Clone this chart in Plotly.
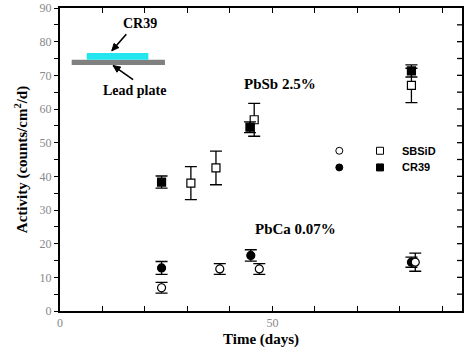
import plotly.graph_objects as go

# ---- data ----
sbsid_pbsb_x = [30.8, 36.7, 45.7, 82.7]
sbsid_pbsb_y = [38.0, 42.5, 56.8, 67.0]
sbsid_pbsb_e = [4.9, 5.0, 4.9, 5.1]

cr39_pbsb_x = [23.9, 44.7, 82.7]
cr39_pbsb_y = [38.3, 54.6, 71.3]
cr39_pbsb_e = [1.8, 1.6, 1.8]

cr39_pbca_x = [23.9, 44.9, 82.7]
cr39_pbca_y = [12.8, 16.5, 14.5]
cr39_pbca_e = [1.9, 1.7, 1.5]

sbsid_pbca_x = [23.9, 37.6, 46.9, 83.6]
sbsid_pbca_y = [6.9, 12.5, 12.5, 14.5]
sbsid_pbca_e = [1.6, 1.6, 1.6, 2.7]

x_ticks = [0, 50]
y_ticks = [0, 10, 20, 30, 40, 50, 60, 70, 80, 90]

X_RANGE = [0, 94.6]
Y_RANGE = [0, 90]

W, H = 470, 354
ML, MR, MT, MB = 60, 8, 8, 42.5
PW, PH = W - ML - MR, H - MT - MB

fig = go.Figure()

def add(x, y, e, symbol, fill, name):
    fig.add_trace(go.Scatter(
        x=x, y=y, mode="markers", name=name, showlegend=False,
        marker=dict(symbol=symbol, size=8, color=fill,
                    line=dict(color="black", width=1.2)),
        error_y=dict(type="data", array=e, color="black", thickness=1.3, width=6),
    ))

add(sbsid_pbsb_x, sbsid_pbsb_y, sbsid_pbsb_e, "square", "white", "SBSiD PbSb")
add(cr39_pbsb_x, cr39_pbsb_y, cr39_pbsb_e, "square", "black", "CR39 PbSb")
add(cr39_pbca_x, cr39_pbca_y, cr39_pbca_e, "circle", "black", "CR39 PbCa")
add(sbsid_pbca_x, sbsid_pbca_y, sbsid_pbca_e, "circle", "white", "SBSiD PbCa")

serif = "Liberation Serif"
shapes = [
    dict(type="rect", xref="x", yref="y", x0=2.75, x1=24.7, y0=73.1, y1=74.6,
         fillcolor="#808080", line=dict(width=0)),
    dict(type="rect", xref="x", yref="y", x0=6.3, x1=20.8, y0=74.6, y1=76.6,
         fillcolor="#22E6EE", line=dict(width=0)),
]

# arrows drawn as line + triangular head (data coords)
def arrow(x0, y0, x1, y1):
    shapes.append(dict(type="line", xref="x", yref="y", x0=x0, y0=y0, x1=x1, y1=y1,
                       line=dict(color="black", width=1.6)))
    sx, sy = PW / (X_RANGE[1] - X_RANGE[0]), PH / (Y_RANGE[1] - Y_RANGE[0])
    dx, dy = (x1 - x0) * sx, (y1 - y0) * sy
    L = (dx ** 2 + dy ** 2) ** 0.5
    ux, uy = dx / L, dy / L
    hl, hw = 7, 3.2
    bx, by = -ux * hl, -uy * hl
    p2 = (x1 + (bx - uy * hw) / sx, y1 + (by + ux * hw) / sy)
    p3 = (x1 + (bx + uy * hw) / sx, y1 + (by - ux * hw) / sy)
    path = "M {} {} L {} {} L {} {} Z".format(x1, y1, p2[0], p2[1], p3[0], p3[1])
    shapes.append(dict(type="path", xref="x", yref="y", path=path,
                       fillcolor="black", line=dict(color="black", width=1)))

arrow(15.6, 82.2, 12.2, 77.3)
arrow(17.2, 68.7, 12.5, 72.9)

# right-side inside ticks (every 5) drawn as short lines in axis-domain coords
for v in range(5, 90, 5):
    shapes.append(dict(type="line", xref="x domain", yref="y", x0=1 - 5 / PW, x1=1, y0=v, y1=v,
                       line=dict(color="black", width=1.3)))

# legend symbols (pixel -> paper coords)
def pcx(px):
    return (px - ML) / PW
def pcy(py):
    return (H - MB - py) / PH
r = 3.5
for (px, py, kind, fill) in [(339.3, 151, "circle", "white"), (380, 151, "rect", "white"),
                             (339.3, 167.7, "circle", "black"), (380, 167.7, "rect", "black")]:
    shapes.append(dict(type=kind, xref="paper", yref="paper",
                       x0=pcx(px - r), x1=pcx(px + r), y0=pcy(py + r), y1=pcy(py - r),
                       fillcolor=fill, line=dict(color="black", width=1)))

annotations = [
    dict(x=18.8, y=85.5, xref="x", yref="y", text="<b>CR39</b>", showarrow=False,
         font=dict(family=serif, size=14, color="black")),
    dict(x=17.6, y=65.4, xref="x", yref="y", text="<b>Lead plate</b>", showarrow=False,
         font=dict(family=serif, size=14, color="black")),
    dict(x=51.8, y=67.4, xref="x", yref="y", text="<b>PbSb 2.5%</b>", showarrow=False,
         font=dict(family=serif, size=15, color="black")),
    dict(x=55.3, y=24.5, xref="x", yref="y", text="<b>PbCa 0.07%</b>", showarrow=False,
         font=dict(family=serif, size=15, color="black")),
    dict(x=pcx(400), y=pcy(151), xref="paper", yref="paper", xanchor="left", text="<b>SBSiD</b>",
         showarrow=False, font=dict(family="Liberation Sans", size=11, color="black")),
    dict(x=pcx(400), y=pcy(167.7), xref="paper", yref="paper", xanchor="left", text="<b>CR39</b>",
         showarrow=False, font=dict(family="Liberation Sans", size=11, color="black")),
]

tickfont = dict(family=serif, size=12, color="#888888")
fig.update_layout(
    width=W, height=H,
    margin=dict(l=ML, r=MR, t=MT, b=MB, autoexpand=False),
    plot_bgcolor="white", paper_bgcolor="white",
    shapes=shapes, annotations=annotations,
    xaxis=dict(range=X_RANGE, tickmode="array", tickvals=x_ticks, automargin=False,
               ticks="inside", ticklen=5, tickwidth=1.3, tickcolor="black",
               minor=dict(tickmode="linear", tick0=0, dtick=10, ticks="inside",
                          ticklen=5, tickwidth=1.3, tickcolor="black"),
               showline=True, mirror="ticks", linecolor="black", linewidth=2,
               showgrid=False, zeroline=False, tickfont=tickfont,
               title=dict(text="<b>Time (days)</b>", font=dict(family=serif, size=15, color="black"),
                          standoff=4)),
    yaxis=dict(range=Y_RANGE, tickmode="array", tickvals=y_ticks, automargin=False,
               ticks="outside", ticklen=4, tickwidth=1.3, tickcolor="black",
               minor=dict(tickmode="linear", tick0=0, dtick=5, ticks="outside",
                          ticklen=4, tickwidth=1.3, tickcolor="black"),
               showline=True, mirror=True, linecolor="black", linewidth=2,
               showgrid=False, zeroline=False, tickfont=tickfont,
               title=dict(text="<b>Activity (counts/cm<sup>2</sup>/d)</b>",
                          font=dict(family=serif, size=15, color="black"), standoff=8)),
)

fig.write_html("out.html", config={"displayModeBar": False},
               post_script="document.body.style.margin='0';")
